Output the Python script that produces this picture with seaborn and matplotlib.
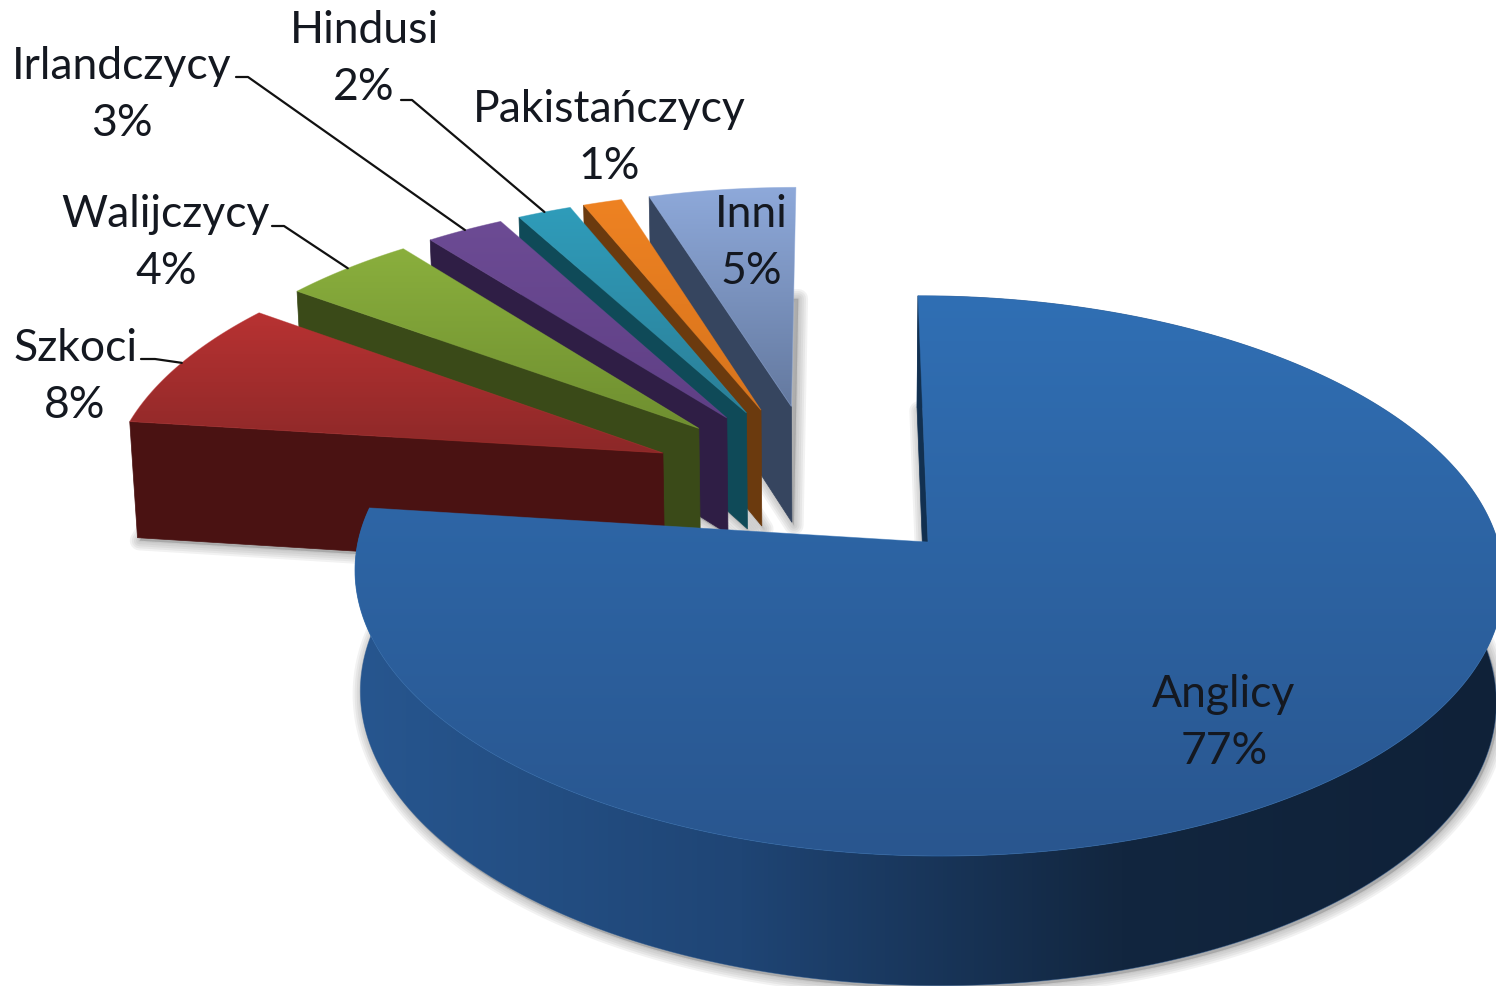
import numpy as np
import matplotlib
matplotlib.use('Agg')
import matplotlib.pyplot as plt
from matplotlib.patches import Polygon
import seaborn as sns

## Data
categories = ['Anglicy', 'Szkoci', 'Walijczycy', 'Irlandczycy', 'Hindusi', 'Pakistańczycy', 'Inni']
values = [77.0, 8.0, 4.4, 2.6, 1.8, 1.3, 4.9]

## Colours, top face gradient and cut face
top_start = ['#306fb4', '#b83232', '#8aaf3d', '#6c4b94', '#2f9cba', '#ee8222', '#8ea9da']
top_end = ['#29568f', '#8c2828', '#6f8f30', '#5f3f85', '#2b7f98', '#d8741c', '#64799f']
side_colors = ['#123050', '#4a1212', '#3a4a18', '#2f1e45', '#0f4a58', '#6b3a0e', '#36455f']
side_ramp = ['#27568f', '#1f4575', '#12263f', '#0f2138']

## Layout of the labels, in pixels
label_xy = [(1224, 723), (75, 377), (166, 243), (122, 95), (364, 59), (609, 138), (751, 243)]
leader_start = {1: [(141, 360), (155, 360)], 2: [(272, 227), (284, 227)],
                3: [(236, 78), (248, 78)], 4: [(401, 101), (412, 101)]}

## Camera used for the tilted pie
explode = 0.3
cx, cy, vx = 928, 543, 835
rx, ry, k = 570, 276, 0.121
depth = 120
shrink = 0.989


def scale(Y):
    return 1 / (1 + k * Y)


def project(X, Y):
    s = scale(Y)
    return vx + (cx - vx + rx * X) * s, cy - ry * Y * s


def drop(X, Y):
    sx, sy = project(X, Y)
    return vx + (sx - vx) * shrink, sy + depth * scale(Y) ** 0.6


def fill_gradient(ax, pts, colors, z, vertical=True):
    pts = np.array(pts)
    cmap = sns.blend_palette(colors, as_cmap=True)
    ramp = np.linspace(0, 1, 256)
    ramp = ramp[:, None] if vertical else ramp[None, :]
    x0, x1, y0, y1 = pts[:, 0].min(), pts[:, 0].max(), pts[:, 1].min(), pts[:, 1].max()
    im = ax.imshow(ramp, cmap=cmap, extent=(x0, x1, y1, y0), aspect='auto', zorder=z,
                   interpolation='bilinear', origin='upper')
    patch = Polygon(pts, closed=True, transform=ax.transData, fc='none', ec='none')
    ax.add_patch(patch)
    im.set_clip_path(patch)
    # thin edge, hides the rough border of the clipped image
    ax.add_patch(Polygon(pts, closed=True, fill=False, ec=colors[0], lw=0.6, zorder=z, alpha=0.5))


def soft_shadow(ax, pts):
    pts = np.array(pts) + [2, 3]
    for lw in [2, 5, 8, 11, 14]:
        ax.add_patch(Polygon(pts, closed=True, fc='#808080', ec='#808080', lw=lw,
                             alpha=0.10, zorder=1, joinstyle='round'))


sns.set_theme(style='white')
plt.rcParams['font.family'] = ['Lato', 'DejaVu Sans']

fig = plt.figure(figsize=(14.96, 9.87), dpi=100)
ax = fig.add_axes([0, 0, 1, 1])

shares = np.array(values) / sum(values) * 360
ends = 90 - np.cumsum(shares)
starts = ends + shares
mids = np.radians((starts + ends) / 2)
base = mids[0]

wedges = []
for i in range(len(values)):
    # every slice moves out along its own middle, the big one stays at the centre point
    ox = explode * (np.cos(mids[i]) - np.cos(base))
    oy = explode * (np.sin(mids[i]) - np.sin(base))
    ang = np.radians(np.linspace(starts[i], ends[i], 300))
    wedges.append((ox, oy, ox + np.cos(ang), oy + np.sin(ang)))

# shadows on the ground first
for ox, oy, X, Y in wedges:
    low = [drop(ox, oy)] + [drop(a, b) for a, b in zip(X, Y)]
    soft_shadow(ax, low)

# small slices from the back to the front, the big one last
z = 2
for i in [6, 5, 4, 3, 2, 1, 0]:
    ox, oy, X, Y = wedges[i]
    top = [project(ox, oy)] + [project(a, b) for a, b in zip(X, Y)]
    if i == 0:
        # rim of the pie
        rim = [project(a, b) for a, b in zip(X, Y)] + [drop(a, b) for a, b in zip(X[::-1], Y[::-1])]
        fill_gradient(ax, rim, side_ramp, z, vertical=False)
    # cut face on the side of the larger angle, for the big slice the thin one at 12 o'clock
    ax.add_patch(Polygon([project(X[0], Y[0]), project(ox, oy), drop(ox, oy), drop(X[0], Y[0])],
                         closed=True, fc=side_colors[i], ec=side_colors[i], lw=0.5, zorder=z + 0.5))
    fill_gradient(ax, top, [top_start[i], top_end[i]], z + 1)
    z += 2

# leader lines end on the arc of the slice
for i, start in leader_start.items():
    ox, oy, X, Y = wedges[i]
    end = project(X[150], Y[150])
    pts = start + [end]
    ax.plot([p[0] for p in pts], [p[1] for p in pts], color='#111111', lw=1.6, zorder=30)

for i, name in enumerate(categories):
    ax.text(label_xy[i][0], label_xy[i][1], f'{name}\n{round(values[i])}%', ha='center', va='center',
            fontsize=32, color='#141820', linespacing=1.5, zorder=40)

ax.set_xlim(0, 1496)
ax.set_ylim(987, 0)
ax.axis('off')

plt.savefig('out.png', dpi=100)
